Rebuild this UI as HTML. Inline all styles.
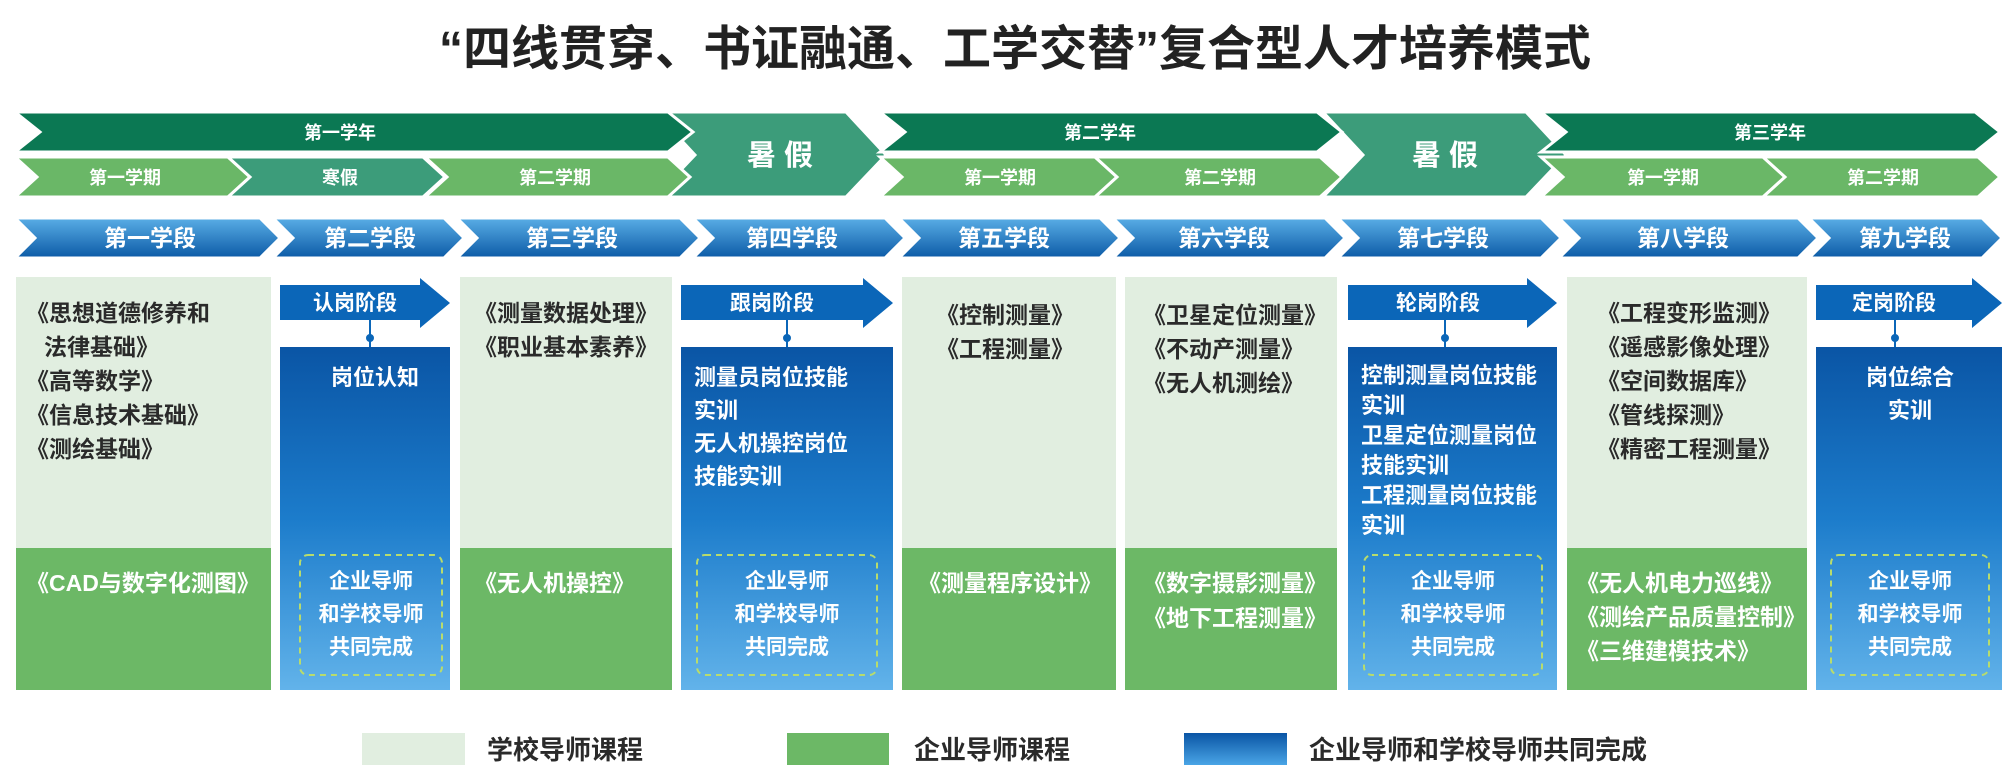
<!DOCTYPE html>
<html><head><meta charset="utf-8"><style>
html,body{margin:0;padding:0;background:#fff;}
svg{display:block;}
text{font-family:"Liberation Sans","Noto Sans CJK SC",sans-serif;font-weight:bold;}
</style></head><body>
<svg width="2013" height="784" viewBox="0 0 2013 784" xmlns="http://www.w3.org/2000/svg">
<defs>
<linearGradient id="stg" x1="0" y1="0" x2="0" y2="1"><stop offset="0" stop-color="#5aaee6"/><stop offset="1" stop-color="#0b5aa6"/></linearGradient>
<linearGradient id="box" x1="0" y1="0" x2="0" y2="1"><stop offset="0" stop-color="#0a55a5"/><stop offset="0.5" stop-color="#1c7ccb"/><stop offset="1" stop-color="#62b3ea"/></linearGradient>
<linearGradient id="leg" x1="0" y1="0" x2="0" y2="1"><stop offset="0" stop-color="#0a55a5"/><stop offset="1" stop-color="#4aa5e6"/></linearGradient>
</defs>
<text x="1015" y="65" font-size="48" text-anchor="middle" fill="#222">“四线贯穿、书证融通、工学交替”复合型人才培养模式</text>

<g stroke="#fff" stroke-width="3">
<polygon points="655,112 846,112 886,155 846,197 655,197 695,155" fill="#3c9c7a"/>
<polygon points="1323,112 1526,112 1566,155 1526,197 1323,197 1363,155" fill="#3c9c7a"/>
<polygon points="15,112 668,112 693,132 668,152 15,152 40,132" fill="#0b7853"/>
<polygon points="880,112 1317,112 1342,132 1317,152 880,152 905,132" fill="#0b7853"/>
<polygon points="1541,112 1975,112 2000,132 1975,152 1541,152 1566,132" fill="#0b7853"/>
<polygon points="15,157 228,157 250,177 228,197 15,197 37,177" fill="#6ab767"/>
<polygon points="228,157 423,157 445,177 423,197 228,197 250,177" fill="#3c9c7a"/>
<polygon points="425,157 668,157 690,177 668,197 425,197 447,177" fill="#6ab767"/>
<polygon points="880,157 1095,157 1117,177 1095,197 880,197 902,177" fill="#6ab767"/>
<polygon points="1095,157 1320,157 1342,177 1320,197 1095,197 1117,177" fill="#6ab767"/>
<polygon points="1541,157 1763,157 1785,177 1763,197 1541,197 1563,177" fill="#6ab767"/>
<polygon points="1763,157 1978,157 2000,177 1978,197 1763,197 1785,177" fill="#6ab767"/>
<polygon points="15,218 260,218 280,238 260,258 15,258 35,238" fill="url(#stg)"/>
<polygon points="273,218 444,218 464,238 444,258 273,258 293,238" fill="url(#stg)"/>
<polygon points="457,218 680,218 700,238 680,258 457,258 477,238" fill="url(#stg)"/>
<polygon points="693,218 885,218 905,238 885,258 693,258 713,238" fill="url(#stg)"/>
<polygon points="899,218 1100,218 1120,238 1100,258 899,258 919,238" fill="url(#stg)"/>
<polygon points="1113,218 1325,218 1345,238 1325,258 1113,258 1133,238" fill="url(#stg)"/>
<polygon points="1338,218 1541,218 1561,238 1541,258 1338,258 1358,238" fill="url(#stg)"/>
<polygon points="1559,218 1798,218 1818,238 1798,258 1559,258 1579,238" fill="url(#stg)"/>
<polygon points="1809,218 1982,218 2002,238 1982,258 1809,258 1829,238" fill="url(#stg)"/>
</g>
<g fill="#fff" text-anchor="middle">
<text x="340" y="139" font-size="18">第一学年</text>
<text x="1100" y="139" font-size="18">第二学年</text>
<text x="1770" y="139" font-size="18">第三学年</text>
<text x="780" y="165" font-size="29">暑 假</text>
<text x="1445" y="165" font-size="29">暑 假</text>
<text x="125" y="184" font-size="18">第一学期</text>
<text x="340" y="184" font-size="18">寒假</text>
<text x="555" y="184" font-size="18">第二学期</text>
<text x="1000" y="184" font-size="18">第一学期</text>
<text x="1220" y="184" font-size="18">第二学期</text>
<text x="1663" y="184" font-size="18">第一学期</text>
<text x="1883" y="184" font-size="18">第二学期</text>
<g font-size="23">
<text x="150" y="246">第一学段</text>
<text x="370" y="246">第二学段</text>
<text x="572" y="246">第三学段</text>
<text x="792" y="246">第四学段</text>
<text x="1004" y="246">第五学段</text>
<text x="1224" y="246">第六学段</text>
<text x="1443" y="246">第七学段</text>
<text x="1683" y="246">第八学段</text>
<text x="1905" y="246">第九学段</text>
</g>
</g>

<g>
<rect x="16" y="277" width="255" height="271" fill="#e1eee0"/><rect x="16" y="548" width="255" height="142" fill="#6cb866"/>
<rect x="460" y="277" width="212" height="271" fill="#e1eee0"/><rect x="460" y="548" width="212" height="142" fill="#6cb866"/>
<rect x="902" y="277" width="214" height="271" fill="#e1eee0"/><rect x="902" y="548" width="214" height="142" fill="#6cb866"/>
<rect x="1125" y="277" width="212" height="271" fill="#e1eee0"/><rect x="1125" y="548" width="212" height="142" fill="#6cb866"/>
<rect x="1567" y="277" width="240" height="271" fill="#e1eee0"/><rect x="1567" y="548" width="240" height="142" fill="#6cb866"/>
</g>

<g>
<rect x="280" y="347" width="170" height="343" fill="url(#box)"/>
<rect x="681" y="347" width="212" height="343" fill="url(#box)"/>
<rect x="1348" y="347" width="209" height="343" fill="url(#box)"/>
<rect x="1816" y="347" width="186" height="343" fill="url(#box)"/>
<g fill="#0b66b8">
<polygon points="280,285 420,285 420,278 450,303 420,328 420,320 280,320"/>
<polygon points="681,285 863,285 863,278 893,303 863,328 863,320 681,320"/>
<polygon points="1348,285 1527,285 1527,278 1557,303 1527,328 1527,320 1348,320"/>
<polygon points="1816,285 1972,285 1972,278 2002,303 1972,328 1972,320 1816,320"/>
</g>
<g stroke="#0b66b8" stroke-width="2" fill="#0b66b8">
<line x1="370" y1="320" x2="370" y2="347"/><circle cx="370" cy="338" r="3"/>
<line x1="787" y1="320" x2="787" y2="347"/><circle cx="787" cy="338" r="3"/>
<line x1="1445" y1="320" x2="1445" y2="347"/><circle cx="1445" cy="338" r="3"/>
<line x1="1895" y1="320" x2="1895" y2="347"/><circle cx="1895" cy="338" r="3"/>
</g>
<g fill="none" stroke="#b8dc6c" stroke-width="2" stroke-dasharray="6,5">
<rect x="300" y="555" width="142" height="120" rx="8"/>
<rect x="697" y="555" width="180" height="120" rx="8"/>
<rect x="1364" y="555" width="178" height="120" rx="8"/>
<rect x="1831" y="555" width="158" height="120" rx="8"/>
</g>
</g>

<g fill="#fff" font-size="21" text-anchor="middle">
<text x="355" y="310">认岗阶段</text>
<text x="772" y="310">跟岗阶段</text>
<text x="1438" y="310">轮岗阶段</text>
<text x="1894" y="310">定岗阶段</text>
</g>
<g fill="#fff" font-size="22">
<text x="375" y="385" text-anchor="middle">岗位认知</text>
<text x="694" y="385">测量员岗位技能</text>
<text x="694" y="418">实训</text>
<text x="694" y="451">无人机操控岗位</text>
<text x="694" y="484">技能实训</text>
<text x="1361" y="383">控制测量岗位技能</text>
<text x="1361" y="413">实训</text>
<text x="1361" y="443">卫星定位测量岗位</text>
<text x="1361" y="473">技能实训</text>
<text x="1361" y="503">工程测量岗位技能</text>
<text x="1361" y="533">实训</text>
<text x="1910" y="385" text-anchor="middle">岗位综合</text>
<text x="1910" y="418" text-anchor="middle">实训</text>
</g>
<g fill="#fff" font-size="21" text-anchor="middle">
<text x="371" y="588">企业导师</text><text x="371" y="621">和学校导师</text><text x="371" y="654">共同完成</text>
<text x="787" y="588">企业导师</text><text x="787" y="621">和学校导师</text><text x="787" y="654">共同完成</text>
<text x="1453" y="588">企业导师</text><text x="1453" y="621">和学校导师</text><text x="1453" y="654">共同完成</text>
<text x="1910" y="588">企业导师</text><text x="1910" y="621">和学校导师</text><text x="1910" y="654">共同完成</text>
</g>

<g fill="#2a2a2a" font-size="23">
<text x="26" y="321">《思想道德修养和</text>
<text x="44" y="355">法律基础》</text>
<text x="26" y="389">《高等数学》</text>
<text x="26" y="423">《信息技术基础》</text>
<text x="26" y="457">《测绘基础》</text>
<text x="474" y="321">《测量数据处理》</text>
<text x="474" y="355">《职业基本素养》</text>
<text x="936" y="323">《控制测量》</text>
<text x="936" y="357">《工程测量》</text>
<text x="1143" y="323">《卫星定位测量》</text>
<text x="1143" y="357">《不动产测量》</text>
<text x="1143" y="391">《无人机测绘》</text>
<text x="1597" y="321">《工程变形监测》</text>
<text x="1597" y="355">《遥感影像处理》</text>
<text x="1597" y="389">《空间数据库》</text>
<text x="1597" y="423">《管线探测》</text>
<text x="1597" y="457">《精密工程测量》</text>
</g>
<g fill="#fff" font-size="23">
<text x="26" y="591">《CAD与数字化测图》</text>
<text x="474" y="591">《无人机操控》</text>
<text x="918" y="591">《测量程序设计》</text>
<text x="1143" y="591">《数字摄影测量》</text>
<text x="1143" y="626">《地下工程测量》</text>
<text x="1576" y="591">《无人机电力巡线》</text>
<text x="1576" y="625">《测绘产品质量控制》</text>
<text x="1576" y="659">《三维建模技术》</text>
</g>

<rect x="362" y="733" width="103" height="32" fill="#e1eee0"/>
<text x="487" y="759" font-size="26" fill="#2a2a2a">学校导师课程</text>
<rect x="787" y="733" width="102" height="32" fill="#6cb866"/>
<text x="914" y="759" font-size="26" fill="#2a2a2a">企业导师课程</text>
<rect x="1184" y="733" width="103" height="32" fill="url(#leg)"/>
<text x="1309" y="759" font-size="26" fill="#2a2a2a">企业导师和学校导师共同完成</text>
</svg>
</body></html>
